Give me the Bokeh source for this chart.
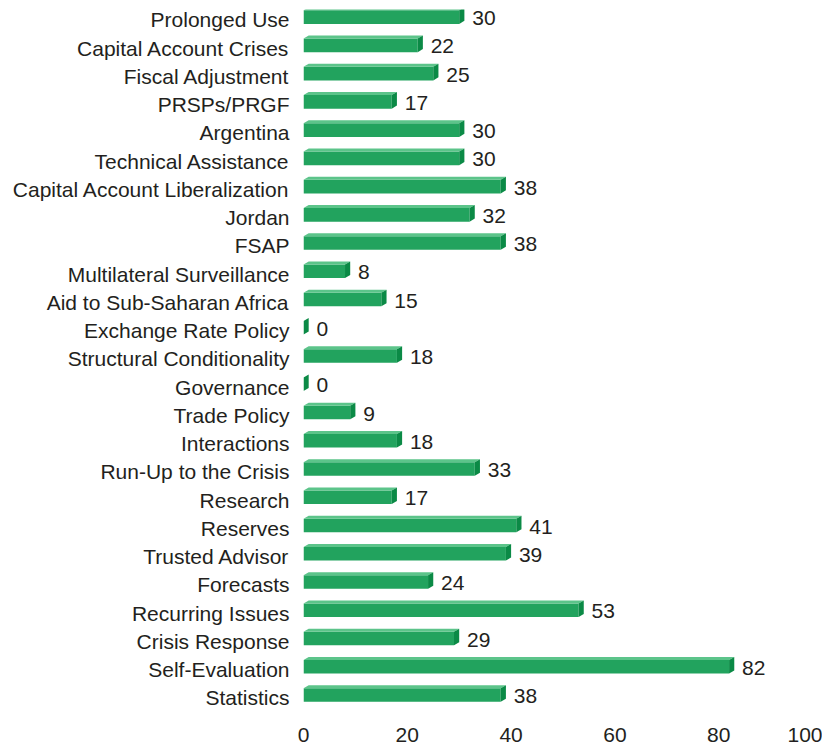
from bokeh.plotting import figure
from bokeh.models import ColumnDataSource, FixedTicker
from bokeh.embed import file_html
from bokeh.resources import INLINE

# Data (top to bottom as in the chart)
categories = [
    "Prolonged Use", "Capital Account Crises", "Fiscal Adjustment", "PRSPs/PRGF",
    "Argentina", "Technical Assistance", "Capital Account Liberalization", "Jordan",
    "FSAP", "Multilateral Surveillance", "Aid to Sub-Saharan Africa",
    "Exchange Rate Policy", "Structural Conditionality", "Governance", "Trade Policy",
    "Interactions", "Run-Up to the Crisis", "Research", "Reserves", "Trusted Advisor",
    "Forecasts", "Recurring Issues", "Crisis Response", "Self-Evaluation", "Statistics",
]
values = [30, 22, 25, 17, 30, 30, 38, 32, 38, 8, 15, 0, 18, 0, 9, 18, 33, 17, 41, 39,
          24, 53, 29, 82, 38]
x_ticks = [0, 20, 40, 60, 80, 100]

n = len(categories)
ypos = [n - 1 - i for i in range(n)]

FONT = "Liberation Sans"
TXT = "#231f20"
FRONT = "#22a35e"
TOP = "#5cc48a"
SIDE = "#0b8a46"

# 3D styling parameters
h = 0.48      # bar thickness (rows)
yc = 0.1      # front face shift up (rows)
dx = 1.0      # depth in x (data units)
dy = 0.11     # depth in y (rows)

p = figure(width=822, height=744, x_range=(0, 100), y_range=(-0.66, n - 1 + 0.37),
           output_backend="svg", toolbar_location=None,
           min_border_left=303, min_border_top=9, min_border_right=0, min_border_bottom=0)
p.outline_line_color = None
p.xgrid.visible = False
p.ygrid.visible = False

bot = [y + yc - h / 2 for y in ypos]
top = [y + yc + h / 2 for y in ypos]

src = ColumnDataSource(dict(y=[y + yc for y in ypos], v=values, cat=categories,
                            lab=[str(v) for v in values]))

# front face
nz = [i for i in range(n) if values[i] > 0]
p.hbar(y=[ypos[i] + yc for i in nz], left=0, right=[values[i] for i in nz], height=h,
       fill_color=FRONT, line_color=None)

# top face
top_xs, top_ys = [], []
for i in nz:
    v = values[i]
    top_xs.append([0, v, v + dx, dx])
    top_ys.append([top[i], top[i], top[i] + dy, top[i] + dy])
p.patches(top_xs, top_ys, fill_color=TOP, line_color=None)

# side face
side_xs, side_ys = [], []
for i in range(n):
    v = values[i]
    side_xs.append([v, v + dx, v + dx, v])
    side_ys.append([bot[i], bot[i] + dy, top[i] + dy, top[i]])
p.patches(side_xs, side_ys, fill_color=SIDE, line_color=None)

# value labels
p.text(x="v", y="y", text="lab", source=src, x_offset=13, y_offset=1,
       text_font_size="21px", text_color=TXT, text_baseline="middle",
       text_align="left", text_font={"value": FONT})

# axes
p.yaxis.ticker = FixedTicker(ticks=ypos)
p.yaxis.major_label_overrides = {ypos[i]: categories[i] for i in range(n)}
p.yaxis.axis_line_color = None
p.yaxis.major_tick_line_color = None
p.yaxis.minor_tick_line_color = None
p.yaxis.major_label_standoff = 8
p.yaxis.major_label_text_font = FONT
p.yaxis.major_label_text_font_size = "21px"
p.yaxis.major_label_text_color = TXT

p.xaxis.ticker = FixedTicker(ticks=x_ticks)
p.xaxis.axis_line_color = None
p.xaxis.major_tick_line_color = None
p.xaxis.minor_tick_line_color = None
p.xaxis.major_label_standoff = 5
p.xaxis.major_label_text_font = FONT
p.xaxis.major_label_text_font_size = "21px"
p.xaxis.major_label_text_color = TXT

open("out.html", "w").write(file_html(p, INLINE))
